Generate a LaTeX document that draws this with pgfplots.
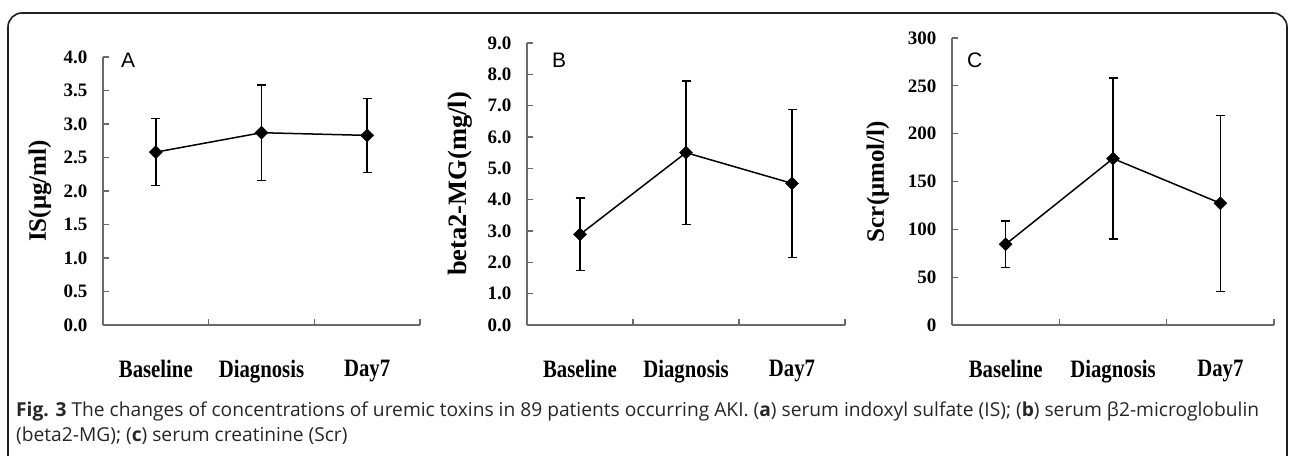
\documentclass[border=0pt]{standalone}
\usepackage{pgfplots}
\pgfplotsset{compat=1.18}
\usepackage{fontspec}
\setmainfont{Liberation Serif}
\newfontfamily\capfont{Open Sans}
\newfontfamily\xlabfont[FakeStretch=0.83]{Liberation Serif}
\newfontfamily\letterfont{Liberation Sans}
\definecolor{axisgray}{HTML}{6A6A6A}
\pgfplotsset{
  panel/.style={
    scale only axis,
    clip=false,
    axis lines*=left,
    axis line style={draw=axisgray, line width=1.5pt, -},
    tick align=inside,
    major tick length=6pt,
    tick style={draw=axisgray, line width=1.3pt},
    xmin=0, xmax=3,
    xtick={1,2,3},
    xticklabels={},
    extra x ticks={0.5,1.5,2.5},
    extra x tick labels={Baseline,Diagnosis,Day7},
    extra x tick style={major tick length=0pt, tick style={draw=none},
      tick label style={font=\fontsize{25}{25}\xlabfont\bfseries, anchor=north, yshift=-32pt}},
    /pgf/number format/assume math mode=true,
    yticklabel style={font=\fontsize{19}{19}\selectfont\bfseries, anchor=east, xshift=-12pt},
    ylabel style={font=\fontsize{25}{25}\selectfont\bfseries, anchor=center},
    error bars/y dir=both,
    error bars/y explicit,
    error bars/error bar style={line width=1.4pt, black},
    error bars/error mark options={rotate=90, mark size=4.5pt, line width=1.4pt, black},
  },
  dline/.style={black, line width=1.5pt, mark=square*, mark size=4.6pt,
    mark options={rotate=45, fill=black, draw=black, line width=0.4pt}},
}
\begin{document}
\begin{tikzpicture}[x=1pt,y=1pt]
\path[use as bounding box] (0,0) rectangle (1290,455);
% frame
\draw[line width=1.6pt, black!88, rounded corners=14pt] (8,-30) -- (8,442) -- (1287,442) -- (1287,-30);

% Panel A
\begin{axis}[panel, at={(103pt,130pt)}, anchor=south west,
  width=317pt, height=268pt,
  ymin=0, ymax=4, ytick={0,0.5,...,4},
  yticklabel style={/pgf/number format/.cd, fixed, fixed zerofill, precision=1},
  ylabel={IS(μg/ml)},
  ylabel style={at={(axis description cs:-0.199,0.5)}},
]
\addplot[dline] coordinates {
  (0.5,2.58) +- (0,0.50)
  (1.5,2.87) +- (0,0.71)
  (2.5,2.83) +- (0,0.55)
};
\end{axis}

% Panel B
\begin{axis}[panel, at={(527pt,130pt)}, anchor=south west,
  width=318pt, height=282pt,
  ymin=0, ymax=9, ytick={0,1,...,9},
  yticklabel style={/pgf/number format/.cd, fixed, fixed zerofill, precision=1},
  ylabel={beta2-MG(mg/l)},
  ylabel style={at={(axis description cs:-0.211,0.5)}, font=\fontsize{26.5}{26.5}\selectfont\bfseries},
]
\addplot[dline] coordinates {
  (0.5,2.89) +- (0,1.16)
  (1.5,5.50) +- (0,2.29)
  (2.5,4.52) +- (0,2.36)
};
\end{axis}

% Panel C
\begin{axis}[panel, at={(952pt,130pt)}, anchor=south west,
  width=322pt, height=287pt,
  ymin=0, ymax=300, ytick={0,50,...,300},
  ylabel={Scr(μmol/l)},
  ylabel style={at={(axis description cs:-0.230,0.5)}},
]
\addplot[dline] coordinates {
  (0.5,84.4) +- (0,24.5)
  (1.5,174) +- (0,84)
  (2.5,127.3) +- (0,92)
};
\end{axis}

% panel letters
\node[anchor=base west, inner sep=0pt, font=\fontsize{21}{21}\letterfont] at (121,387) {A};
\node[anchor=base west, inner sep=0pt, font=\fontsize{21}{21}\letterfont] at (552,387) {B};
\node[anchor=base west, inner sep=0pt, font=\fontsize{21}{21}\letterfont] at (967,387) {C};

% caption
\node[anchor=base west, inner sep=0pt, text=black!85, font=\fontsize{19.2}{19.2}\capfont] at (16,38)
  {\textbf{Fig. 3} The changes of concentrations of uremic toxins in 89 patients occurring AKI. (\textbf{a}) serum indoxyl sulfate (IS); (\textbf{b}) serum β2-microglobulin};
\node[anchor=base west, inner sep=0pt, text=black!85, font=\fontsize{19.2}{19.2}\capfont] at (16,13)
  {(beta2-MG); (\textbf{c}) serum creatinine (Scr)};
\end{tikzpicture}
\end{document}
